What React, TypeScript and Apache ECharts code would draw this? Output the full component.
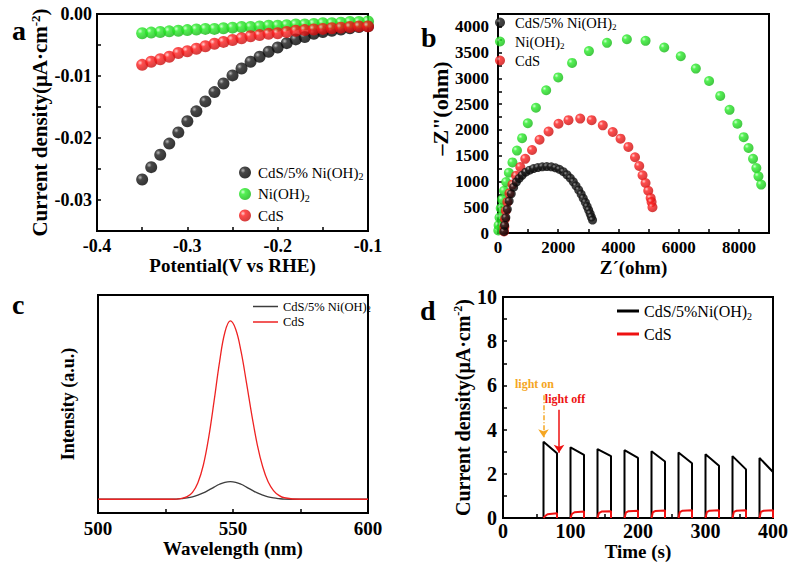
import React, { useEffect, useRef } from 'react';
import * as echarts from 'echarts';

const FONT = '"Liberation Serif", "Times New Roman", Times, serif';

// ---------- Panel a: LSV ----------
const aPotential = [-0.35, -0.34, -0.33, -0.32, -0.31, -0.30, -0.29, -0.28, -0.27, -0.26, -0.25, -0.24, -0.23, -0.22, -0.21, -0.20, -0.19, -0.18, -0.17, -0.16, -0.15, -0.14, -0.13, -0.12, -0.11, -0.10];
const aComposite = [-0.0267, -0.0247, -0.0227, -0.0209, -0.0191, -0.0173, -0.0157, -0.0141, -0.0126, -0.0112, -0.0099, -0.0088, -0.0077, -0.0069, -0.0061, -0.0054, -0.0047, -0.0041, -0.0037, -0.0032, -0.0029, -0.0027, -0.0025, -0.0023, -0.0021, -0.0020];
const aNiOH = [-0.0031, -0.0030, -0.0029, -0.0028, -0.0027, -0.0026, -0.0025, -0.0024, -0.0024, -0.0023, -0.0022, -0.0021, -0.0021, -0.0020, -0.0019, -0.0019, -0.0018, -0.0017, -0.0017, -0.0016, -0.0015, -0.0015, -0.0014, -0.0013, -0.0013, -0.0012];
const aCdS = [-0.0082, -0.0077, -0.0073, -0.0069, -0.0063, -0.0060, -0.0056, -0.0052, -0.0048, -0.0045, -0.0042, -0.0039, -0.0036, -0.0034, -0.0032, -0.0031, -0.0029, -0.0027, -0.0026, -0.0025, -0.0024, -0.0023, -0.0022, -0.0021, -0.0020, -0.0020];

// ---------- Panel b: Nyquist ----------
const bCompRe = [200, 220, 260, 310, 370, 440, 520, 610, 700, 800, 920, 1050, 1180, 1320, 1470, 1620, 1770, 1910, 2040, 2170, 2290, 2400, 2500, 2590, 2680, 2760, 2830, 2900, 2960, 3010, 3060, 3100, 3140];
const bCompIm = [30, 150, 300, 460, 620, 760, 890, 990, 1060, 1120, 1180, 1220, 1250, 1270, 1285, 1290, 1285, 1265, 1235, 1190, 1130, 1065, 995, 915, 835, 755, 675, 595, 515, 445, 375, 310, 250];
const bNiRe = [10, 20, 50, 90, 140, 200, 270, 360, 480, 630, 800, 990, 1260, 1600, 2000, 2460, 3020, 3620, 4280, 4900, 5520, 6070, 6570, 7010, 7380, 7690, 7950, 8160, 8320, 8470, 8580, 8650, 8740];
const bNiIm = [50, 150, 300, 480, 650, 820, 990, 1170, 1370, 1600, 1840, 2130, 2430, 2770, 3020, 3300, 3530, 3690, 3760, 3730, 3600, 3430, 3190, 2950, 2660, 2390, 2120, 1860, 1650, 1440, 1260, 1100, 940];
const bCdSRe = [200, 210, 230, 260, 310, 380, 480, 600, 740, 905, 1130, 1380, 1680, 2010, 2340, 2730, 3110, 3480, 3810, 4070, 4330, 4550, 4690, 4800, 4900, 4990, 5070, 5100, 5130];
const bCdSIm = [30, 120, 270, 430, 600, 770, 940, 1110, 1280, 1440, 1610, 1810, 1970, 2120, 2190, 2220, 2190, 2090, 1960, 1830, 1670, 1470, 1300, 1120, 970, 820, 680, 600, 500];

// ---------- Panel c: PL ----------
const cWavelength = [500, 510, 520, 525, 529, 531, 533, 535, 537, 539, 541, 543, 545, 547, 549, 551, 553, 555, 557, 559, 561, 563, 565, 567, 569, 575, 585, 600];
const cCdS = [6.3, 6.3, 6.3, 6.3, 6.4, 6.7, 7.5, 9.5, 13.9, 21.9, 34.7, 51.4, 69.1, 82.9, 88.1, 84.3, 74.0, 59.7, 44.7, 31.3, 21.2, 14.3, 10.3, 8.1, 7.0, 6.3, 6.3, 6.3];
const cComposite = [6.3, 6.3, 6.3, 6.3, 6.4, 6.6, 6.9, 7.4, 8.2, 9.2, 10.5, 11.9, 13.2, 14.1, 14.4, 14.1, 13.2, 11.9, 10.5, 9.2, 8.2, 7.4, 6.9, 6.6, 6.4, 6.3, 6.3, 6.3];

// ---------- Panel d: photocurrent ----------
const dOn = [60, 100, 140, 180, 220, 260, 300, 340, 380];
const dOff = [80, 120, 160, 200, 240, 280, 320, 360, 400];
const dCompPeak = [3.45, 3.2, 3.12, 3.07, 3.02, 2.96, 2.88, 2.8, 2.72];
const dCompEnd = [2.93, 2.86, 2.8, 2.72, 2.56, 2.48, 2.36, 2.2, 2.08];
const dCdSEarly = [0.08, 0.18, 0.22, 0.24, 0.26, 0.27, 0.27, 0.28, 0.28];
const dCdSMid = [0.17, 0.26, 0.29, 0.31, 0.32, 0.33, 0.33, 0.33, 0.33];
const dCdSEnd = [0.22, 0.29, 0.31, 0.33, 0.34, 0.35, 0.35, 0.35, 0.35];

const zip = (xs: number[], ys: number[]) => xs.map((x, i) => [x, ys[i]]);

const dCompData: any[] = [[0, 0]];
dOn.forEach((on, i) => {
  dCompData.push([on, 0], [on, dCompPeak[i]], [dOff[i], dCompEnd[i]], [dOff[i], 0]);
});
const dCdSData: any[] = [];
dOn.forEach((on, i) => {
  dCdSData.push([on, 0], [on + 2, dCdSEarly[i]], [on + 6, dCdSMid[i]], [dOff[i], dCdSEnd[i]], [dOff[i], 0], [dOff[i], '-']);
});

const LABELS: Record<string, string> = {
  'a-comp': '{n|CdS/5% Ni(OH)}{s|2}',
  'a-ni': '{n|Ni(OH)}{s|2}',
  'a-cds': '{n|CdS}',
  'b-comp': '{n|CdS/5% Ni(OH)}{s|2}',
  'b-ni': '{n|Ni(OH)}{s|2}',
  'b-cds': '{n|CdS}',
  'c-comp': '{n|CdS/5% Ni(OH)}{s|2}',
  'c-cds': '{n|CdS}',
  'd-comp': '{n|CdS/5%Ni(OH)}{s|2}',
  'd-cds': '{n|CdS}',
};

const every = (step: number, dec: number) => (v: number) => {
  const k = Math.round(v / step);
  return Math.abs(v - k * step) < step * 1e-6 ? (k * step).toFixed(dec) : '';
};

const ball = (hi: string, mid: string, base: string) => ({
  type: 'radial', x: 0.33, y: 0.33, r: 0.7,
  colorStops: [{ offset: 0, color: hi }, { offset: 0.3, color: mid }, { offset: 1, color: base }],
});
const BLACK = ball('#a8a8a8', '#1a1a1a', '#000000');
const GREEN = ball('#c8ffc8', '#2aee2a', '#14b814');
const RED = ball('#ffc4c4', '#ff2020', '#c80c0c');

const axisBase = (fontSize: number, nameSize: number) => ({
  type: 'value',
  axisLine: { show: true, onZero: false, lineStyle: { color: '#000', width: 2 } },
  axisTick: { show: true, inside: true, length: 4, lineStyle: { color: '#000', width: 1.5 } },
  splitLine: { show: false },
  axisLabel: { color: '#000', fontSize, fontWeight: 'bold', fontFamily: FONT },
  nameLocation: 'middle',
  nameTextStyle: { color: '#000', fontSize: nameSize, fontWeight: 'bold', fontFamily: FONT },
});

const legendBase = (fontSize: number, lh: number) => ({
  orient: 'vertical',
  padding: 0,
  selectedMode: false,
  formatter: (n: string) => LABELS[n],
  textStyle: {
    color: '#000', fontFamily: FONT, fontSize,
    rich: {
      n: { color: '#000', fontFamily: FONT, fontSize, lineHeight: lh },
      s: { color: '#000', fontFamily: FONT, fontSize: Math.round(fontSize * 0.65), lineHeight: Math.round(lh * 0.55), verticalAlign: 'bottom' },
    },
  },
});

const gridStyle = { show: true, borderColor: '#000', borderWidth: 2, containLabel: false };

const option: any = {
  animation: false,
  backgroundColor: '#fff',
  textStyle: { fontFamily: FONT },
  grid: [
    { left: 97, top: 14, width: 271, height: 217, ...gridStyle },
    { left: 498, top: 14, width: 271, height: 219, ...gridStyle },
    { left: 98, top: 295, width: 270, height: 218, ...gridStyle },
    { left: 503, top: 297, width: 270, height: 221, ...gridStyle },
  ],
  xAxis: [
    {
      ...axisBase(18, 19), gridIndex: 0, min: -0.4, max: -0.1, interval: 0.05,
      axisLabel: { ...axisBase(18, 19).axisLabel, formatter: every(0.1, 1), margin: 6 },
      name: 'Potential(V vs RHE)', nameGap: 25,
    },
    {
      ...axisBase(17, 19), gridIndex: 1, min: 0, max: 9000, interval: 1000,
      axisLabel: { ...axisBase(17, 19).axisLabel, formatter: every(2000, 0), margin: 6 },
      name: 'Z´(ohm)', nameGap: 25,
    },
    {
      ...axisBase(19, 19), gridIndex: 2, min: 500, max: 600, interval: 25,
      axisLabel: { ...axisBase(19, 19).axisLabel, formatter: every(50, 0), margin: 6 },
      name: 'Wavelength (nm)', nameGap: 22,
    },
    {
      ...axisBase(20, 19), gridIndex: 3, min: 0, max: 400, interval: 50,
      axisLabel: { ...axisBase(20, 19).axisLabel, formatter: every(100, 0), margin: 3 },
      name: 'Time (s)', nameGap: 20,
    },
  ],
  yAxis: [
    {
      ...axisBase(18, 21), gridIndex: 0, min: -0.035, max: 0, interval: 0.005,
      axisLabel: { ...axisBase(18, 21).axisLabel, formatter: every(0.01, 2), margin: 5 },
      name: '{n|Current density(μA·cm}{p|-2}{n|)}', nameGap: 44,
      nameTextStyle: {
        ...axisBase(18, 21).nameTextStyle,
        rich: {
          n: { fontSize: 21, fontWeight: 'bold', fontFamily: FONT, color: '#000', lineHeight: 22 },
          p: { fontSize: 13, fontWeight: 'bold', fontFamily: FONT, color: '#000', lineHeight: 12, verticalAlign: 'top' },
        },
      },
    },
    {
      ...axisBase(17, 22), gridIndex: 1, min: 0, max: 4250, interval: 250,
      axisLabel: { ...axisBase(17, 22).axisLabel, formatter: every(500, 0), margin: 9 },
      name: '–Z"(ohm)', nameGap: 42,
      nameTextStyle: { ...axisBase(17, 22).nameTextStyle, padding: [0, 0, 0, 30] },
    },
    {
      ...axisBase(19, 18), gridIndex: 2, min: 0, max: 100,
      axisTick: { show: false }, axisLabel: { show: false },
      name: 'Intensity (a.u.)', nameGap: 21,
    },
    {
      ...axisBase(20, 20), gridIndex: 3, min: 0, max: 10, interval: 1,
      axisLabel: { ...axisBase(20, 20).axisLabel, formatter: every(2, 0), margin: 6 },
      name: '{n|Current density(μA·cm}{p|-2}{n|)}', nameGap: 30,
      nameTextStyle: {
        ...axisBase(20, 20).nameTextStyle,
        rich: {
          n: { fontSize: 20, fontWeight: 'bold', fontFamily: FONT, color: '#000', lineHeight: 21 },
          p: { fontSize: 12, fontWeight: 'bold', fontFamily: FONT, color: '#000', lineHeight: 11, verticalAlign: 'top' },
        },
      },
    },
  ],
  legend: [
    { ...legendBase(15, 18), data: ['a-comp', 'a-ni', 'a-cds'], left: 239, top: 165, itemWidth: 16, itemHeight: 12, itemGap: 5 },
    { ...legendBase(14.5, 17), data: ['b-comp', 'b-ni', 'b-cds'], left: 495, top: 15, itemWidth: 20, itemHeight: 10, itemGap: 3 },
    { ...legendBase(12.5, 14), data: ['c-comp', 'c-cds'], left: 253, top: 300, icon: 'rect', itemWidth: 25, itemHeight: 1.5, itemGap: 2 },
    { ...legendBase(16, 20), data: ['d-comp', 'd-cds'], left: 617, top: 303, icon: 'rect', itemWidth: 22, itemHeight: 3, itemGap: 5 },
  ],
  graphic: [
    { type: 'text', left: 12, top: 16, style: { text: 'a', font: `bold 28px ${FONT}`, fill: '#000' } },
    { type: 'text', left: 421, top: 23, style: { text: 'b', font: `bold 28px ${FONT}`, fill: '#000' } },
    { type: 'text', left: 12, top: 290, style: { text: 'c', font: `bold 28px ${FONT}`, fill: '#000' } },
    { type: 'text', left: 420, top: 296, style: { text: 'd', font: `bold 28px ${FONT}`, fill: '#000' } },
  ],
  series: [
    { name: 'a-comp', type: 'scatter', xAxisIndex: 0, yAxisIndex: 0, symbolSize: 12, data: zip(aPotential, aComposite), itemStyle: { color: BLACK } },
    { name: 'a-ni', type: 'scatter', xAxisIndex: 0, yAxisIndex: 0, symbolSize: 12, data: zip(aPotential, aNiOH), itemStyle: { color: GREEN } },
    { name: 'a-cds', type: 'scatter', xAxisIndex: 0, yAxisIndex: 0, symbolSize: 12, data: zip(aPotential, aCdS), itemStyle: { color: RED } },

    { name: 'b-ni', type: 'scatter', xAxisIndex: 1, yAxisIndex: 1, symbolSize: 10, data: zip(bNiRe, bNiIm), itemStyle: { color: GREEN } },
    { name: 'b-cds', type: 'scatter', xAxisIndex: 1, yAxisIndex: 1, symbolSize: 10, data: zip(bCdSRe, bCdSIm), itemStyle: { color: RED } },
    { name: 'b-comp', type: 'scatter', xAxisIndex: 1, yAxisIndex: 1, symbolSize: 9, data: zip(bCompRe, bCompIm), itemStyle: { color: BLACK } },

    { name: 'c-comp', type: 'line', xAxisIndex: 2, yAxisIndex: 2, symbol: 'none', smooth: 0.4, data: zip(cWavelength, cComposite), lineStyle: { color: '#3c3c3c', width: 1.3 }, itemStyle: { color: '#3c3c3c' } },
    { name: 'c-cds', type: 'line', xAxisIndex: 2, yAxisIndex: 2, symbol: 'none', smooth: 0.4, data: zip(cWavelength, cCdS), lineStyle: { color: '#ee2222', width: 1.3 }, itemStyle: { color: '#ee2222' } },

    {
      name: 'd-comp', type: 'line', xAxisIndex: 3, yAxisIndex: 3, symbol: 'none', data: dCompData,
      lineStyle: { color: '#000', width: 2 }, itemStyle: { color: '#000' },
      markLine: {
        silent: true, symbol: ['none', 'arrow'], symbolSize: 8, animation: false,
        data: [
          [
            {
              coord: [60, 5.55], lineStyle: { color: '#f5a623', width: 1.5, type: [5, 2, 1, 2] },
              label: { show: true, position: 'start', formatter: 'light on', color: '#f5a623', fontSize: 12, fontWeight: 'bold', fontFamily: FONT, padding: [0, 18, 0, 0] },
            },
            { coord: [60, 3.65] },
          ],
          [
            {
              coord: [83, 4.9], lineStyle: { color: '#ee1111', width: 1.5, type: 'solid' },
              label: { show: true, position: 'start', formatter: 'light off', color: '#ee1111', fontSize: 12, fontWeight: 'bold', fontFamily: FONT, padding: [0, 0, 0, 12] },
            },
            { coord: [83, 2.95] },
          ],
        ],
      },
    },
    { name: 'd-cds', type: 'line', xAxisIndex: 3, yAxisIndex: 3, symbol: 'none', data: dCdSData, connectNulls: false, lineStyle: { color: '#ee1111', width: 2 }, itemStyle: { color: '#ee1111' } },
  ],
};

export default function App() {
  const ref = useRef<HTMLDivElement>(null);
  useEffect(() => {
    const chart = echarts.init(ref.current!, null, { renderer: 'svg' });
    chart.setOption(option);
    return () => chart.dispose();
  }, []);
  return <div ref={ref} style={{ position: 'absolute', left: 0, top: 0, width: 792, height: 569, background: '#fff' }} />;
}
